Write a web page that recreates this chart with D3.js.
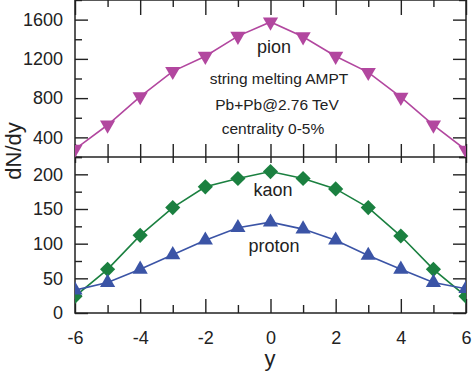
<!DOCTYPE html>
<html><head><meta charset="utf-8">
<script src="https://cdn.jsdelivr.net/npm/d3@7"></script>
<style>
html,body{margin:0;padding:0;background:#fff;}
svg{display:block;font-family:"Liberation Sans",Arial,Helvetica,sans-serif;}
</style></head>
<body><svg id="chart" width="474" height="371"></svg>
<script>
const rapidity = [-6,-5,-4,-3,-2,-1,0,1,2,3,4,5,6];
const pion   = [280,526,816,1073,1227,1432,1576,1426,1227,1063,810,526,270];
const kaon   = [24,63,112,152,182,194,204,194,179,152,111,63,24];
const proton = [33,44,63,84,105,123,131,121,105,83,63,44,35];
const xTicks = [-6,-4,-2,0,2,4,6];
const xMinor = [-5,-3,-1,1,3,5];
const topTicks = [400,800,1200,1600];
const topMinor = [200,600,1000,1400,1800];
const botTicks = [0,50,100,150,200];
const botMinor = [25,75,125,175,225];
const notes = ["string melting AMPT","Pb+Pb@2.76 TeV","centrality 0-5%"];

const svg = d3.select("#chart");
const L=75, R=466, T=0, M=157, B=313;
const x = d3.scaleLinear([-6,6],[L,R]);
const yTop = d3.scaleLinear([200,1800],[M,T]);
const yBot = d3.scaleLinear([0,225],[B,M]);
const plain = d => String(d);

const defs = svg.append("defs");
defs.append("clipPath").attr("id","cTop").append("rect").attr("x",L).attr("y",T).attr("width",R-L).attr("height",M-T);
defs.append("clipPath").attr("id","cBot").append("rect").attr("x",L).attr("y",M).attr("width",R-L).attr("height",B-M);

function styleAxis(g){
  g.select(".domain").remove();
  g.selectAll("line").attr("stroke","#222").attr("stroke-width",1.4);
  g.selectAll("text").attr("fill","#222").attr("font-size",18).attr("font-family","Liberation Sans, Arial, sans-serif");
}
function addAxis(axis, tx, ty){
  const g = svg.append("g").attr("transform",`translate(${tx},${ty})`).call(axis);
  styleAxis(g); return g;
}
// left axes
addAxis(d3.axisLeft(yTop).tickValues(topTicks).tickSize(-13).tickPadding(12).tickFormat(plain), L, 0);
addAxis(d3.axisLeft(yTop).tickValues(topMinor).tickSize(-7).tickFormat(""), L, 0);
addAxis(d3.axisLeft(yBot).tickValues(botTicks).tickSize(-13).tickPadding(12).tickFormat(plain), L, 0);
addAxis(d3.axisLeft(yBot).tickValues(botMinor).tickSize(-7).tickFormat(""), L, 0);
// right axes
addAxis(d3.axisRight(yTop).tickValues(topTicks).tickSize(-13).tickFormat(""), R, 0);
addAxis(d3.axisRight(yTop).tickValues(topMinor).tickSize(-7).tickFormat(""), R, 0);
addAxis(d3.axisRight(yBot).tickValues(botTicks).tickSize(-13).tickFormat(""), R, 0);
addAxis(d3.axisRight(yBot).tickValues(botMinor).tickSize(-7).tickFormat(""), R, 0);
// top edge
addAxis(d3.axisTop(x).tickValues(xTicks).tickSize(-15).tickFormat(""), 0, T);
addAxis(d3.axisTop(x).tickValues(xMinor).tickSize(-7).tickFormat(""), 0, T);
// middle line ticks
addAxis(d3.axisBottom(x).tickValues(rapidity).tickSize(-13).tickFormat(""), 0, M);
addAxis(d3.axisTop(x).tickValues(rapidity).tickSize(-6).tickFormat(""), 0, M);
// bottom axis
addAxis(d3.axisBottom(x).tickValues(xTicks).tickSize(-14).tickPadding(18).tickFormat(plain), 0, B);
addAxis(d3.axisBottom(x).tickValues(xMinor).tickSize(-8).tickFormat(""), 0, B);

// frame
svg.append("rect").attr("x",L).attr("y",T).attr("width",R-L).attr("height",B-T)
  .attr("fill","none").attr("stroke","#222").attr("stroke-width",1.5);
svg.append("line").attr("x1",L).attr("x2",R).attr("y1",M).attr("y2",M)
  .attr("stroke","#222").attr("stroke-width",1.5);

function series(vals, yScale, color, sym, size, rot, clip){
  const g = svg.append("g").attr("clip-path",`url(#${clip})`);
  const pts = rapidity.map((r,i)=>[x(r), yScale(vals[i])]);
  g.append("path").attr("d", d3.line()(pts)).attr("fill","none").attr("stroke",color).attr("stroke-width",1.6);
  g.selectAll("path.m").data(pts).join("path").attr("class","m")
    .attr("d", d3.symbol().type(sym).size(size)())
    .attr("transform", d=>`translate(${d[0]},${d[1]}) rotate(${rot})`)
    .attr("fill",color);
}
series(pion, yTop, "#b2479f", d3.symbolTriangle, 100, 180, "cTop");
series(kaon, yBot, "#1b8040", d3.symbolSquare, 115, 45, "cBot");
series(proton, yBot, "#3b54a6", d3.symbolTriangle, 100, 0, "cBot");

// labels
const txt = (s, tx, ty, fs, anchor="middle") => svg.append("text").attr("x",tx).attr("y",ty)
  .attr("font-size",fs).attr("text-anchor",anchor).attr("fill","#222").text(s);
txt("pion", 274, 53, 18);
txt(notes[0], 279, 84, 15.5);
txt(notes[1], 277, 110, 15.5);
txt(notes[2], 273, 134, 15.5);
txt("kaon", 273, 196, 18);
txt("proton", 274, 252, 18);
txt("y", 270, 366, 22);
svg.append("text").attr("transform","translate(21,151) rotate(-90)").attr("text-anchor","middle")
  .attr("font-size",22).attr("fill","#222").text("dN/dy");
</script></body></html>
